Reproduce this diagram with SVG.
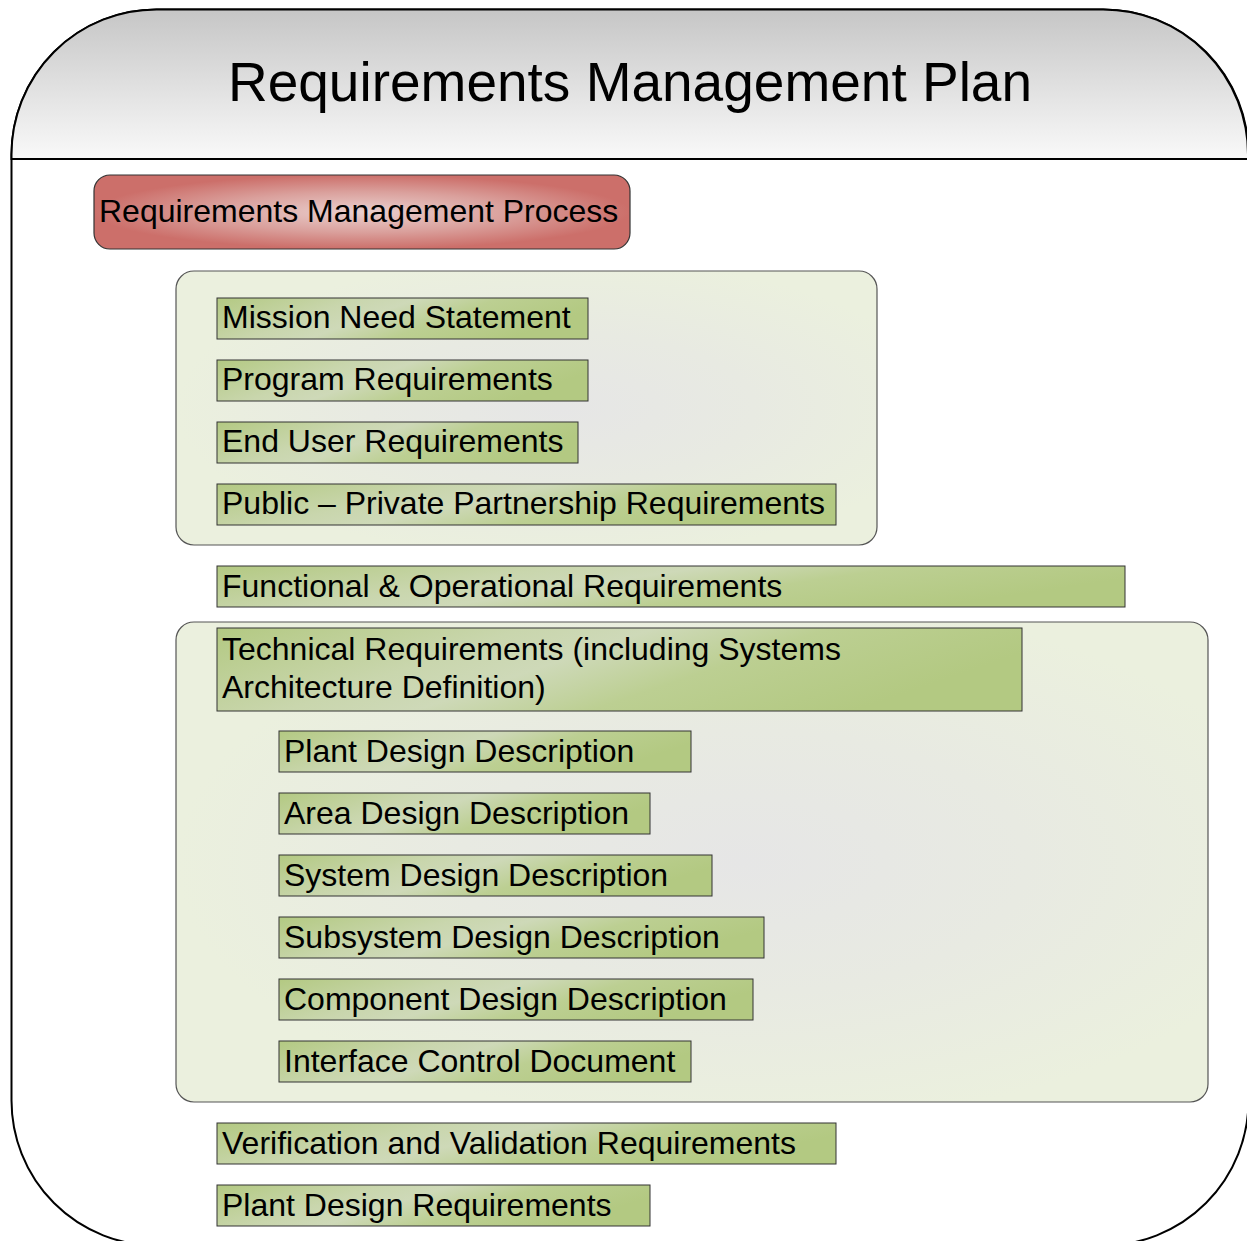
<svg xmlns="http://www.w3.org/2000/svg" width="1247" height="1241" viewBox="0 0 1247 1241">
<defs>
<linearGradient id="hdr" x1="0" y1="0" x2="0" y2="1">
<stop offset="0" stop-color="#c6c6c6"/>
<stop offset="1" stop-color="#f9f9f9"/>
</linearGradient>
<radialGradient id="red" cx="0.5" cy="0.5" r="0.5">
<stop offset="0" stop-color="#ead0ce"/>
<stop offset="0.55" stop-color="#daa09c"/>
<stop offset="1" stop-color="#cc6f6a"/>
</radialGradient>
<radialGradient id="grp" cx="0.55" cy="0.5" r="0.55">
<stop offset="0" stop-color="#e6e6e6"/>
<stop offset="0.5" stop-color="#e8eae2"/>
<stop offset="1" stop-color="#ebf0de"/>
</radialGradient>
<linearGradient id="itm" x1="0" y1="0" x2="1" y2="0.3">
<stop offset="0" stop-color="#b3c982"/>
<stop offset="0.35" stop-color="#c9d6ad"/>
<stop offset="0.5" stop-color="#ced9b8"/>
<stop offset="0.7" stop-color="#bccf92"/>
<stop offset="1" stop-color="#b3c982"/>
</linearGradient>
</defs>
<style>
.t{font-family:"Liberation Sans",Arial,sans-serif;fill:#000}
.it rect{fill:url(#itm);stroke:#333;stroke-width:1}
.it text{font-family:"Liberation Sans",Arial,sans-serif;font-size:32px;fill:#000}
.grp{fill:url(#grp);stroke:#555;stroke-width:1.2}
</style>
<g id="frame">
<rect x="11.5" y="9.5" width="1237" height="1236" rx="145" ry="145" fill="#fff" stroke="#000" stroke-width="2"/>
<path d="M11.5,159 V154.5 A145,145 0 0 1 156.5,9.5 H1103 A145,145 0 0 1 1248,154.5 V159 Z" fill="url(#hdr)" stroke="#000" stroke-width="2"/>
<text class="t" x="630" y="101" font-size="55" text-anchor="middle">Requirements Management Plan</text>
</g>
<g id="process">
<rect x="94" y="175" width="536" height="74" rx="16" fill="url(#red)" stroke="#333" stroke-width="1.2"/>
<text class="t" x="99" y="222" font-size="32">Requirements Management Process</text>
</g>
<g id="group1"><rect class="grp" x="176" y="271" width="701" height="274" rx="18"/></g>
<g id="group2"><rect class="grp" x="176" y="622" width="1032" height="480" rx="18"/></g>
<g id="mission" class="it"><rect x="217" y="298" width="371" height="41"/><text x="222" y="328">Mission Need Statement</text></g>
<g id="program" class="it"><rect x="217" y="360" width="371" height="41"/><text x="222" y="390">Program Requirements</text></g>
<g id="enduser" class="it"><rect x="217" y="422" width="361" height="41"/><text x="222" y="452">End User Requirements</text></g>
<g id="ppp" class="it"><rect x="217" y="484" width="619" height="41"/><text x="222" y="514">Public – Private Partnership Requirements</text></g>
<g id="functional" class="it"><rect x="217" y="566" width="908" height="41"/><text x="222" y="597">Functional &amp; Operational Requirements</text></g>
<g id="technical" class="it"><rect x="217" y="628" width="805" height="83"/><text x="222" y="660">Technical Requirements (including Systems</text><text x="222" y="698">Architecture Definition)</text></g>
<g id="plantdd" class="it"><rect x="279" y="731" width="412" height="41"/><text x="284" y="762">Plant Design Description</text></g>
<g id="areadd" class="it"><rect x="279" y="793" width="371" height="41"/><text x="284" y="824">Area Design Description</text></g>
<g id="systemdd" class="it"><rect x="279" y="855" width="433" height="41"/><text x="284" y="886">System Design Description</text></g>
<g id="subsystemdd" class="it"><rect x="279" y="917" width="485" height="41"/><text x="284" y="948">Subsystem Design Description</text></g>
<g id="componentdd" class="it"><rect x="279" y="979" width="474" height="41"/><text x="284" y="1010">Component Design Description</text></g>
<g id="icd" class="it"><rect x="279" y="1041" width="412" height="41"/><text x="284" y="1072">Interface Control Document</text></g>
<g id="vv" class="it"><rect x="217" y="1123" width="619" height="41"/><text x="222" y="1154">Verification and Validation Requirements</text></g>
<g id="plantdr" class="it"><rect x="217" y="1185" width="433" height="41"/><text x="222" y="1216">Plant Design Requirements</text></g>
<g id="connectors"/>
</svg>
